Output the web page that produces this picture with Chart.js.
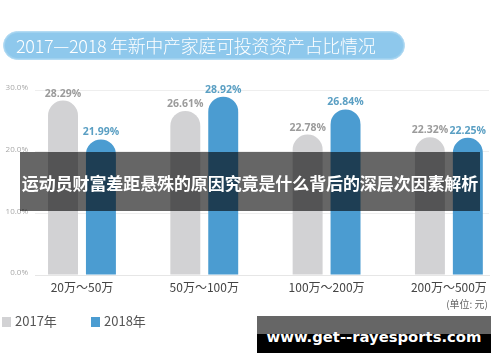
<!DOCTYPE html>
<html>
<head>
<meta charset="utf-8">
<script src="https://cdn.jsdelivr.net/npm/chart.js@4.4.1/dist/chart.umd.min.js"></script>
<style>
  html, body { margin: 0; padding: 0; background: #fff; }
  #wrap { position: relative; width: 500px; height: 362px; overflow: hidden; font-family: "Noto Sans CJK SC", "Noto Sans", sans-serif; }
  #chart { position: absolute; left: 0; top: 0; }
  .title {
    position: absolute; left: 3px; top: 31px; width: 388px; height: 27px;
    background: #8ec8ec; border: 1.5px solid #b4dbf3; border-radius: 15px;
    box-shadow: inset 0 0 0 1px #9fd1ef;
    color: #fff; font-size: 18px; font-weight: 300; line-height: 27px; padding-left: 12px; box-sizing: content-box;
    white-space: nowrap; letter-spacing: -0.3px;
  }
  .unit { position: absolute; right: 12px; top: 296px; font-size: 10px; color: #666; }
  .legend { position: absolute; top: 313px; font-size: 13px; color: #555; line-height: 16px; }
  .legend i { display: inline-block; width: 9px; height: 10px; margin-right: 4px; vertical-align: -1px; }
  .banner {
    position: absolute; left: 20px; top: 152px; width: 460px; height: 59px;
    background: rgba(0, 0, 0, 0.6); color: #fff; font-weight: bold; font-size: 17px;
    text-align: center; line-height: 62px; white-space: nowrap; letter-spacing: -0.1px;
  }
  .mark {
    position: absolute; left: 257px; top: 316px; width: 234px; height: 37px;
    background: linear-gradient(#666 0, #666 48%, #000 48%, #000 100%);
    color: #fff; font-family: "DejaVu Sans", sans-serif; font-weight: bold; font-size: 14.8px;
    text-align: center; line-height: 42px; white-space: nowrap;
  }
</style>
</head>
<body>
<div id="wrap">
  <canvas id="chart" width="500" height="362"></canvas>
  <div class="title">2017—2018 年新中产家庭可投资资产占比情况</div>
  <div class="unit">(单位: 元)</div>
  <div id="legend"></div>
  <div class="banner">运动员财富差距悬殊的原因究竟是什么背后的深层次因素解析</div>
  <div class="mark">www.get--rayesports.com</div>
</div>
<script>
// data
var categories = ['20万～50万', '50万～100万', '100万～200万', '200万～500万'];
var seriesNames = ['2017年', '2018年'];
var values2017 = [28.29, 26.61, 22.78, 22.32];
var values2018 = [21.99, 28.92, 26.84, 22.25];
var yTicks = [0, 10, 20, 30];

var barColors = ['#d2d2d4', '#4b9cd1'];
var labelColors = ['#9b9b9b', '#5a9fc3'];

var toPoints = function (vals) {
  return vals.map(function (v, i) { return { x: i, y: v }; });
};

// html legend, built from the series
var legendLeft = [2, 91];
var legendHtml = '';
for (var i = 0; i < seriesNames.length; i++) {
  legendHtml += '<div class="legend" style="left:' + legendLeft[i] + 'px"><i style="background:' +
    barColors[i] + '"></i>' + seriesNames[i] + '</div>';
}
document.getElementById('legend').innerHTML = legendHtml;

// value labels above bars
var valueLabels = {
  id: 'valueLabels',
  afterDatasetsDraw: function (chart) {
    var ctx = chart.ctx;
    ctx.save();
    ctx.font = 'bold 10.5px "Open Sans", sans-serif';
    ctx.textAlign = 'center';
    ctx.textBaseline = 'middle';
    chart.data.datasets.forEach(function (ds, di) {
      ctx.fillStyle = labelColors[di];
      chart.getDatasetMeta(di).data.forEach(function (bar, j) {
        ctx.fillText(ds.data[j].y.toFixed(2) + '%', bar.x, bar.y - 7);
      });
    });
    ctx.restore();
  }
};

var ctx = document.getElementById('chart').getContext('2d');
var myChart = new Chart(ctx, {
  type: 'bar',
  data: {
    datasets: [{
      label: seriesNames[0],
      data: toPoints(values2017),
      backgroundColor: barColors[0]
    }, {
      label: seriesNames[1],
      data: toPoints(values2018),
      backgroundColor: barColors[1]
    }]
  },
  options: {
    responsive: false,
    animation: false,
    devicePixelRatio: 1,
    categoryPercentage: 0.62,
    barPercentage: 0.79,
    borderRadius: { topLeft: 15, topRight: 15 },
    borderSkipped: 'start',
    layout: { padding: { top: 90, right: 11, bottom: 67, left: 0 } },
    plugins: {
      legend: { display: false },
      tooltip: { enabled: false }
    },
    scales: {
      x: {
        type: 'linear',
        offset: false,
        min: -0.384,
        max: 3.328,
        afterFit: function (s) { s.height = 20; },
        grid: { display: false, drawTicks: false, offset: false },
        border: { color: '#e6e6e6' },
        ticks: {
          stepSize: 1,
          includeBounds: false,
          padding: 5,
          color: '#444',
          font: { family: '"Noto Sans CJK SC", sans-serif', size: 12 },
          callback: function (v) {
            return Number.isInteger(v) && categories[v] ? categories[v] : '';
          }
        }
      },
      y: {
        min: 0,
        max: 30,
        afterFit: function (s) { s.width = 35; },
        afterBuildTicks: function (s) {
          s.ticks = yTicks.map(function (v) { return { value: v }; });
        },
        grid: { color: '#eeeeee', drawTicks: false },
        border: { display: false },
        ticks: {
          padding: 7,
          labelOffset: -2,
          color: '#a8a8a8',
          font: { family: '"Open Sans", sans-serif', size: 8 },
          callback: function (v) { return v.toFixed(1) + '%'; }
        }
      }
    }
  },
  plugins: [valueLabels]
});
</script>
</body>
</html>
